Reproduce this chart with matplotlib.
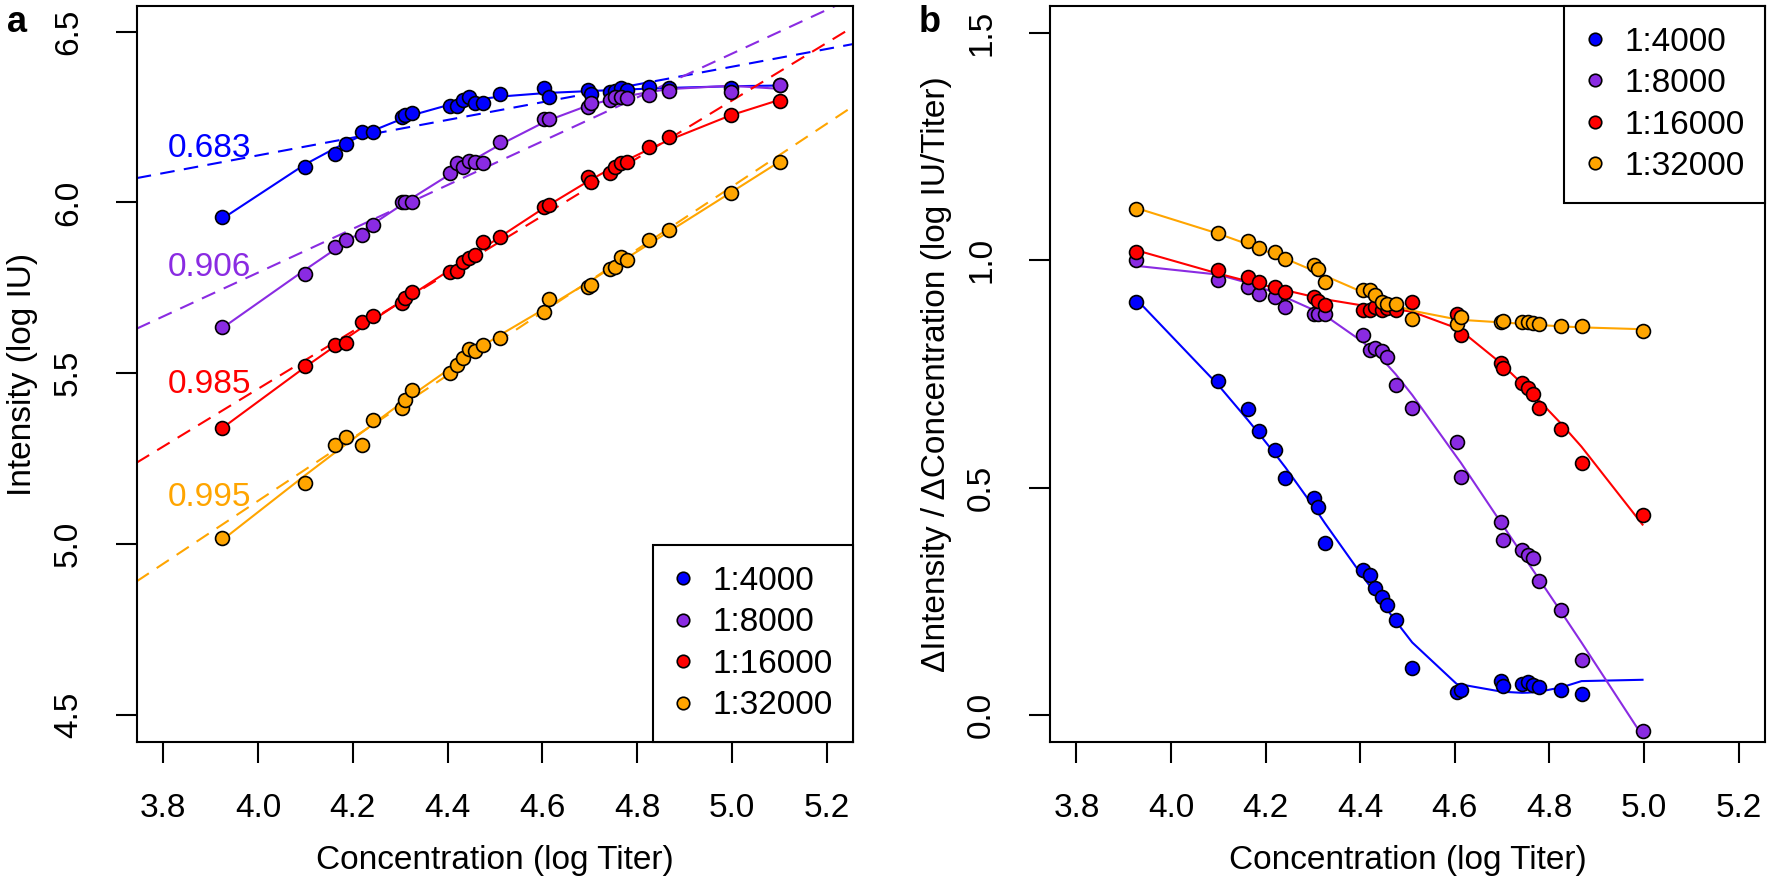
import numpy as np
import matplotlib
matplotlib.use("Agg")
import matplotlib.pyplot as plt
from matplotlib.lines import Line2D

plt.rcParams['font.family'] = ['Liberation Sans', 'DejaVu Sans']

# ---------------- data ----------------
conc = [3.925, 4.099, 4.163, 4.186, 4.220, 4.242, 4.303, 4.311, 4.325, 4.405,
        4.420, 4.432, 4.446, 4.457, 4.475, 4.510, 4.604, 4.613, 4.697, 4.702,
        4.742, 4.754, 4.765, 4.778, 4.825, 4.868, 4.997, 5.102]

int_4000 = [5.958, 6.104, 6.142, 6.170, 6.207, 6.207, 6.251, 6.255, 6.261, 6.282,
            6.282, 6.300, 6.310, 6.290, 6.292, 6.317, 6.334, 6.310, 6.329, 6.318,
            6.322, 6.325, 6.334, 6.330, 6.337, 6.335, 6.335, 6.345]
int_8000 = [5.636, 5.790, 5.870, 5.890, 5.904, 5.934, 6.000, 6.000, 6.000, 6.087,
            6.114, 6.104, 6.120, 6.119, 6.114, 6.178, 6.244, 6.243, 6.280, 6.290,
            6.300, 6.309, 6.310, 6.305, 6.315, 6.327, 6.324, 6.345]
int_16000 = [5.338, 5.520, 5.582, 5.587, 5.650, 5.667, 5.704, 5.719, 5.738, 5.797,
             5.800, 5.826, 5.836, 5.846, 5.885, 5.899, 5.987, 5.992, 6.075, 6.061,
             6.085, 6.104, 6.114, 6.119, 6.163, 6.192, 6.256, 6.298]
int_32000 = [5.016, 5.177, 5.289, 5.313, 5.289, 5.362, 5.397, 5.421, 5.450, 5.499,
             5.523, 5.543, 5.572, 5.565, 5.582, 5.602, 5.680, 5.716, 5.753, 5.758,
             5.805, 5.811, 5.841, 5.830, 5.890, 5.919, 6.027, 6.119]

# panel b: slope at each concentration (up to 5.0)
slope_4000 = [0.909, 0.734, 0.673, 0.624, 0.582, 0.522, 0.476, 0.457, 0.379, 0.318,
              0.307, 0.278, 0.260, 0.241, 0.209, 0.103, 0.050, 0.055, 0.075, 0.063,
              0.068, 0.072, 0.065, 0.060, 0.055, 0.045]
slope_8000 = [1.000, 0.956, 0.942, 0.927, 0.920, 0.898, 0.883, 0.883, 0.883, 0.836,
              0.803, 0.807, 0.800, 0.788, 0.726, 0.675, 0.600, 0.524, 0.425, 0.384,
              0.362, 0.351, 0.344, 0.294, 0.230, 0.120, -0.035]
slope_16000 = [1.018, 0.978, 0.963, 0.953, 0.942, 0.931, 0.920, 0.910, 0.902, 0.891,
               0.891, 0.898, 0.891, 0.895, 0.890, 0.909, 0.883, 0.836, 0.774, 0.763,
               0.730, 0.719, 0.705, 0.675, 0.630, 0.555, 0.440]
slope_32000 = [1.113, 1.060, 1.042, 1.028, 1.018, 1.004, 0.989, 0.982, 0.953, 0.934,
               0.934, 0.923, 0.909, 0.905, 0.904, 0.872, 0.861, 0.876, 0.865, 0.866,
               0.865, 0.865, 0.862, 0.861, 0.855, 0.855, 0.845]

labels = ["1:4000", "1:8000", "1:16000", "1:32000"]
colors = ["#0000FF", "#8A2BE2", "#FF0000", "#FFA500"]
r2_text = ["0.683", "0.906", "0.985", "0.995"]

intensity = [int_4000, int_8000, int_16000, int_32000]
slopes = [slope_4000, slope_8000, slope_16000, slope_32000]


def loess(x, y, xe, span=0.75):
    """Local quadratic regression (tricube weights); local mean outside the data range."""
    x = np.asarray(x, float)
    y = np.asarray(y, float)
    n = len(x)
    q = int(np.ceil(span * n))
    out = []
    for x0 in xe:
        deg = 2 if x.min() <= x0 <= x.max() else 0
        d = np.abs(x - x0)
        h = np.sort(d)[q - 1] * 1.0001
        w = np.clip(1 - (d / h) ** 3, 0, None) ** 3
        A = np.vstack([(x - x0) ** p for p in range(deg + 1)]).T
        sw = np.sqrt(w)
        coef, *_ = np.linalg.lstsq(A * sw[:, None], y * sw, rcond=None)
        out.append(coef[0])
    return np.array(out)


W, H = 1772, 885
fig = plt.figure(figsize=(W / 100, H / 100), dpi=100)

FS = 24
frame_top, frame_bot = 6, 742
axa = fig.add_axes([136.7 / W, 1 - frame_bot / H, (853.3 - 136.7) / W, (frame_bot - frame_top) / H])
axb = fig.add_axes([1050 / W, 1 - frame_bot / H, (1765 - 1050) / W, (frame_bot - frame_top) / H])

for ax in (axa, axb):
    for s in ax.spines.values():
        s.set_linewidth(1.5)
    ax.tick_params(length=15, width=1.5, labelsize=FS, direction='out')
    ax.tick_params(axis='x', pad=22)
    ax.tick_params(axis='y', pad=23)
    ax.set_xlim(3.744, 5.256)
    ax.set_xticks([3.8, 4.0, 4.2, 4.4, 4.6, 4.8, 5.0, 5.2])

# ---- panel a ----
xa = np.array(conc)
for yv, c, r2 in zip(intensity, colors, r2_text):
    yv = np.array(yv)
    k, b0 = np.polyfit(xa, yv, 1)
    xl = np.array([3.744, 5.256])
    axa.plot(xl, k * xl + b0, color=c, lw=1.5, dashes=(7, 4.5), zorder=2)
    axa.plot(xa, loess(xa, yv, xa), color=c, lw=1.5, zorder=2)
    axa.scatter(xa, yv, s=100, facecolor=c, edgecolor='black', linewidth=1.2, zorder=3)
    xt = 3.985
    axa.text(xt, k * xt + b0, r2, color=c, fontsize=FS, ha='right', va='baseline', zorder=4)

axa.set_ylim(4.42, 6.575)
axa.set_yticks([4.5, 5.0, 5.5, 6.0, 6.5])
plt.setp(axa.get_yticklabels(), rotation=90, va='center')

# ---- panel b ----
for yv, c in zip(slopes, colors):
    yv = np.array(yv)
    xb = xa[:len(yv)]
    axb.scatter(xb, yv, s=100, facecolor=c, edgecolor='black', linewidth=1.2, zorder=3)
    xe = xa[:27]
    axb.plot(xe, loess(xb, yv, xe), color=c, lw=1.5, zorder=2)

axb.set_ylim(-0.06, 1.56)
axb.set_yticks([0.0, 0.5, 1.0, 1.5])
axb.set_yticklabels(["0.0", "0.5", "1.0", "1.5"])
plt.setp(axb.get_yticklabels(), rotation=90, va='center')

handles = [Line2D([], [], marker='o', linestyle='none', markersize=9,
                  markerfacecolor=c, markeredgecolor='black', markeredgewidth=1.2)
           for c in colors]
for ax, loc in ((axa, 'lower right'), (axb, 'upper right')):
    leg = ax.legend(handles, labels, loc=loc, fontsize=FS, frameon=True, fancybox=False,
                    borderaxespad=0, borderpad=0.62, handlelength=0.6, handletextpad=0.57,
                    labelspacing=0.315, edgecolor='black', framealpha=1)
    leg.get_frame().set_linewidth(1.5)
    leg.set_zorder(5)

# axis labels
fig.text((136.7 + 853.3) / 2 / W, 1 - 860 / H, "Concentration (log Titer)", fontsize=FS,
         ha='center', va='center')
fig.text((1050 + 1765) / 2 / W, 1 - 860 / H, "Concentration (log Titer)", fontsize=FS,
         ha='center', va='center')
fig.text(23 / W, 1 - 374 / H, "Intensity (log IU)", fontsize=FS, rotation=90,
         ha='center', va='center')
fig.text(936 / W, 1 - 374 / H, "\u0394Intensity / \u0394Concentration (log IU/Titer)",
         fontsize=FS, rotation=90, ha='center', va='center')
fig.text(17 / W, 1 - 23 / H, "a", fontsize=26, fontweight='bold', ha='center', va='center')
fig.text(930 / W, 1 - 23 / H, "b", fontsize=26, fontweight='bold', ha='center', va='center')

fig.savefig("out.png", dpi=100)
